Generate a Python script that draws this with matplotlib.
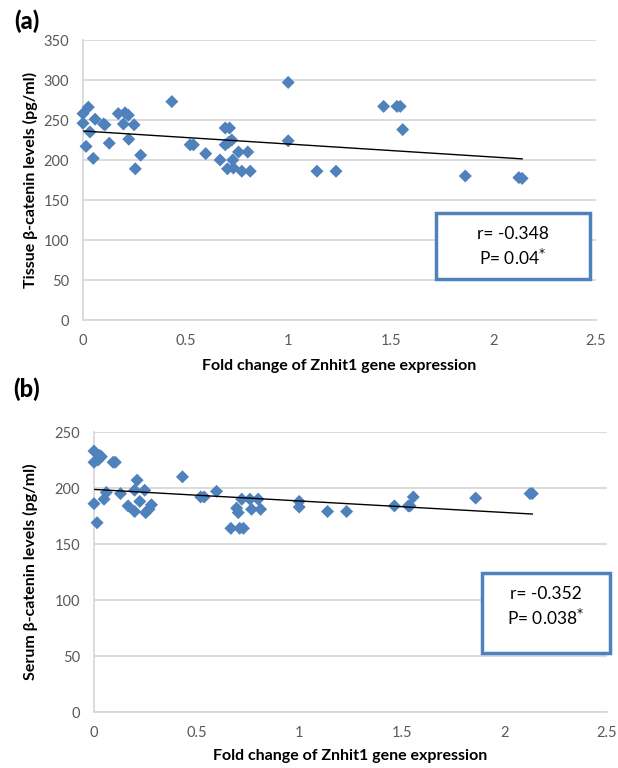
import numpy as np
import matplotlib
matplotlib.use("Agg")
import matplotlib.pyplot as plt
from matplotlib.patches import Rectangle

plt.rcParams['font.family'] = ['Lato', 'DejaVu Sans']

# ---- Data ----
tissue_x = [0.026, 0.0, 0.0, 0.034, 0.015, 0.05, 0.059, 0.10, 0.107, 0.128,
            0.172, 0.205, 0.221, 0.197, 0.249, 0.223, 0.281, 0.255, 0.433, 0.522,
            0.538, 0.598, 0.668, 0.693, 0.714, 0.725, 0.693, 0.709, 0.73, 0.758,
            0.803, 0.704, 0.733, 0.774, 0.815, 1.0, 1.0, 1.14, 1.233, 1.465,
            1.53, 1.546, 1.558, 1.863, 2.124, 2.14]
tissue_y = [266, 258, 246, 235, 217, 202, 251, 245, 244, 221,
            258, 259, 256, 245, 244, 226, 206, 189, 273, 219,
            219, 208, 200, 240, 240, 225, 219, 222, 200, 210,
            210, 189, 190, 186, 186, 297, 224, 186, 186, 267,
            267, 267, 238, 180, 178, 177]

serum_x = [0.0, 0.028, 0.02, 0.0, 0.036, 0.0, 0.015, 0.049, 0.06, 0.093,
           0.104, 0.129, 0.166, 0.198, 0.21, 0.198, 0.223, 0.247, 0.252, 0.28,
           0.268, 0.431, 0.52, 0.537, 0.597, 0.667, 0.71, 0.728, 0.695, 0.703,
           0.72, 0.76, 0.768, 0.80, 0.812, 1.0, 1.0, 1.138, 1.231, 1.464,
           1.532, 1.54, 1.556, 1.86, 2.125, 2.136]
serum_y = [233, 229, 225, 223, 228, 186, 169, 190, 196, 223,
           223, 195, 184, 179, 207, 198, 188, 198, 178, 185,
           181, 210, 192, 192, 197, 164, 164, 164, 182, 178,
           190, 190, 181, 190, 181, 188, 183, 179, 179, 184,
           184, 184, 192, 191, 195, 195]

tissue_stats = ["r= -0.348", "P= 0.04$^{*}$"]
serum_stats = ["r= -0.352", "P= 0.038$^{*}$"]

xlabel = "Fold change of Znhit1 gene expression"
tissue_ylabel = "Tissue β-catenin levels (pg/ml)"
serum_ylabel = "Serum β-catenin levels (pg/ml)"

W, H = 618, 768
fig = plt.figure(figsize=(W / 100, H / 100), dpi=100)

blue = '#4F81BD'
grid = '#D9D9D9'
tickc = '#595959'


def make_panel(rect, xs, ys, ymax, ystep, ylabel, stats, box_px, letter, letter_px,
               ylabel_xpx, xlabel_ypx):
    l, t, r, b = rect
    ax = fig.add_axes([l / W, 1 - b / H, (r - l) / W, (b - t) / H])
    ax.set_xlim(0, 2.5)
    ax.set_ylim(0, ymax)
    ax.set_xticks(np.arange(0, 2.51, 0.5))
    ax.set_xticklabels(['0', '0.5', '1', '1.5', '2', '2.5'])
    ax.set_yticks(np.arange(0, ymax + 1, ystep))
    ax.yaxis.grid(True, color=grid, lw=1.3)
    ax.set_axisbelow(True)
    for s in ['top', 'right']:
        ax.spines[s].set_visible(False)
    ax.spines['left'].set_color(grid)
    ax.spines['left'].set_linewidth(1.3)
    ax.spines['bottom'].set_color(grid)
    ax.spines['bottom'].set_linewidth(1.3)
    ax.tick_params(length=0, labelsize=10.5, colors=tickc)
    ax.tick_params(axis='y', pad=10)
    ax.tick_params(axis='x', pad=10)
    ax.scatter(xs, ys, marker='D', s=44, color=blue, edgecolors='none', zorder=3,
               clip_on=False)
    # trend line
    xs_a = np.array(xs)
    ys_a = np.array(ys)
    k, c = np.polyfit(xs_a, ys_a, 1)
    xl = np.array([xs_a.min(), xs_a.max()])
    ax.plot(xl, k * xl + c, color='black', lw=1.0, zorder=4)
    ax.set_ylabel(ylabel, fontsize=11.5, fontweight='bold')
    ax.yaxis.set_label_coords((ylabel_xpx - l) / (r - l), 0.5)
    ax.set_xlabel(xlabel, fontsize=11.5, fontweight='bold')
    ax.xaxis.set_label_coords(0.5, -(xlabel_ypx - b) / (b - t))
    # stats box
    bl, bt, br, bb = box_px
    rect_p = Rectangle((bl / W, 1 - bb / H), (br - bl) / W, (bb - bt) / H,
                       transform=fig.transFigure, facecolor='white',
                       edgecolor=blue, lw=2.5, zorder=5)
    fig.add_artist(rect_p)
    cx = (bl + br) / 2 / W
    fig.text(cx, 1 - (bt + 21) / H, stats[0], ha='center', va='center', fontsize=12.5, zorder=6)
    fig.text(cx, 1 - (bt + 45) / H, stats[1], ha='center', va='center', fontsize=12.5, zorder=6)
    fig.text(letter_px[0] / W, 1 - letter_px[1] / H, letter, ha='center', va='center',
             fontsize=17, fontweight='black')
    return ax


make_panel((83, 40, 596, 320), tissue_x, tissue_y, 350, 50, tissue_ylabel, tissue_stats,
           (436, 213, 590, 279), '(a)', (27, 21), 38, 359)
make_panel((94, 432, 607, 712), serum_x, serum_y, 250, 50, serum_ylabel, serum_stats,
           (482, 573, 610, 653), '(b)', (27, 389), 38, 749)

fig.savefig('out.png', dpi=100)
